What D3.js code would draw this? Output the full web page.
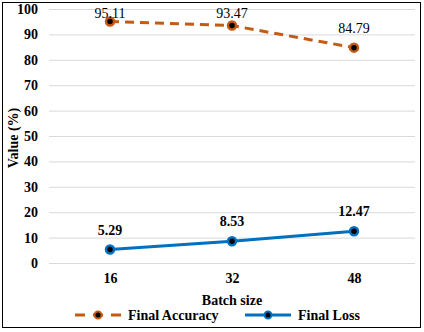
<!DOCTYPE html>
<meta charset="utf-8">
<script src="https://d3js.org/d3.v7.min.js"></script>
<body style="margin:0; background:#fff">
<svg width="424" height="332" font-family="Liberation Serif"></svg>
<script>
  // chart data
  var batchSizes = ["16", "32", "48"];
  var accuracy = [95.11, 93.47, 84.79];
  var loss = [5.29, 8.53, 12.47];
  var yTicks = [0, 10, 20, 30, 40, 50, 60, 70, 80, 90, 100];

  var FONT = "Liberation Serif";

  var svg = d3.select("svg");
  var margin = {top: 9, right: 9, bottom: 69, left: 49},
      width = 424 - margin.left - margin.right,
      height = 254;

  // outer frame
  svg.append("rect")
      .attr("x", 2.5).attr("y", 2.5)
      .attr("width", 418).attr("height", 325)
      .attr("fill", "none").attr("stroke", "#000").attr("stroke-width", 1);

  var g = svg.append("g")
      .attr("transform", "translate(" + margin.left + "," + margin.top + ")");

  var x = d3.scalePoint().domain(batchSizes).range([0, width]).padding(0.5);
  var y = d3.scaleLinear().domain([0, 100]).range([height, 0]);

  // gridlines
  g.selectAll(".grid")
    .data(yTicks)
    .enter().append("line")
      .attr("x1", 0).attr("x2", width)
      .attr("y1", function(d) { return y(d) + 0.5; })
      .attr("y2", function(d) { return y(d) + 0.5; })
      .attr("stroke", "#d9d9d9").attr("stroke-width", 1);

  // y axis labels
  var yAxis = d3.axisLeft(y).tickValues(yTicks).tickSize(0).tickPadding(11);
  g.append("g").call(yAxis)
    .attr("font-family", FONT).attr("font-size", 14).attr("font-weight", "bold")
    .call(function(a) { a.select(".domain").remove(); })
    .selectAll("text").attr("fill", "#000");

  // x axis labels
  var xAxis = d3.axisBottom(x).tickSize(0).tickPadding(10);
  g.append("g").attr("transform", "translate(0," + y(0) + ")").call(xAxis)
    .attr("font-family", FONT).attr("font-size", 14).attr("font-weight", "bold")
    .call(function(a) { a.select(".domain").remove(); })
    .selectAll("text").attr("fill", "#000");

  var series = [
    {name: "Final Accuracy", values: accuracy, color: "#C55A11", dash: "9,6", labelWeight: "normal"},
    {name: "Final Loss", values: loss, color: "#0070C0", dash: null, labelWeight: "bold"}
  ];

  var line = d3.line()
      .x(function(d, i) { return x(batchSizes[i]); })
      .y(function(d) { return y(d); });

  series.forEach(function(s) {
    g.append("path")
        .datum(s.values)
        .attr("d", line)
        .attr("fill", "none")
        .attr("stroke", s.color)
        .attr("stroke-width", 3)
        .attr("stroke-dasharray", s.dash);

    g.selectAll(null)
      .data(s.values)
      .enter().append("circle")
        .attr("cx", function(d, i) { return x(batchSizes[i]); })
        .attr("cy", function(d) { return y(d); })
        .attr("r", 4)
        .attr("fill", "#000")
        .attr("stroke", s.color).attr("stroke-width", 2.5);

    // data labels, kept inside the plot area at the top
    g.selectAll(null)
      .data(s.values)
      .enter().append("text")
        .attr("x", function(d, i) { return x(batchSizes[i]); })
        .attr("y", function(d) { return Math.max(y(d) - 15, 9); })
        .attr("text-anchor", "middle")
        .attr("font-family", FONT)
        .attr("font-size", 14)
        .attr("font-weight", s.labelWeight)
        .text(function(d) { return d.toFixed(2); });
  });

  // axis titles
  svg.append("text")
      .attr("transform", "translate(18,138) rotate(-90)")
      .attr("text-anchor", "middle")
      .attr("font-family", FONT)
      .attr("font-size", 14).attr("font-weight", "bold")
      .text("Value (%)");

  svg.append("text")
      .attr("x", margin.left + x("32")).attr("y", 305)
      .attr("text-anchor", "middle")
      .attr("font-family", FONT)
      .attr("font-size", 14).attr("font-weight", "bold")
      .text("Batch size");

  // legend
  var legend = svg.append("g").attr("transform", "translate(0,315)");
  var legendItems = [
    {s: series[0], x0: 75, tx: 128},
    {s: series[1], x0: 245, tx: 298}
  ];
  legendItems.forEach(function(it) {
    legend.append("line")
        .attr("x1", it.x0).attr("x2", it.x0 + 46)
        .attr("y1", 0).attr("y2", 0)
        .attr("stroke", it.s.color).attr("stroke-width", 3)
        .attr("stroke-dasharray", it.s.dash ? "10,8" : null);
    legend.append("circle")
        .attr("cx", it.x0 + 23).attr("cy", 0).attr("r", 3.5)
        .attr("fill", "#000").attr("stroke", it.s.color).attr("stroke-width", 2);
    legend.append("text")
        .attr("x", it.tx).attr("y", 4.5)
        .attr("font-family", FONT)
        .attr("font-size", 14).attr("font-weight", "bold")
        .text(it.s.name);
  });
</script>
</body>
